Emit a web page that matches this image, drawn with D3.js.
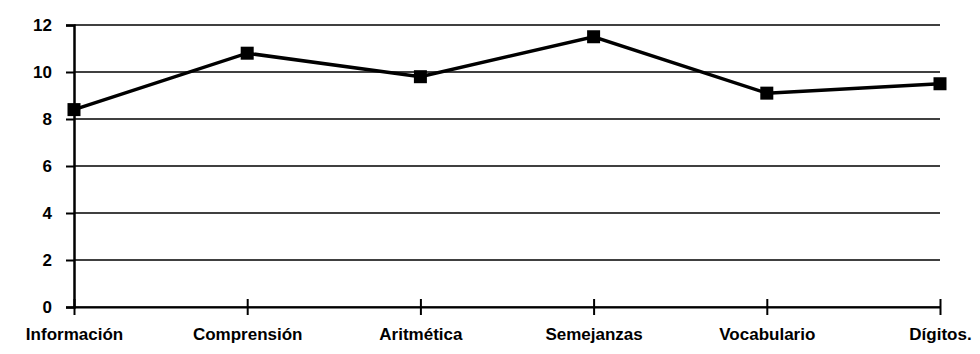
<!DOCTYPE html>
<html>
<head>
<meta charset="utf-8">
<script src="https://cdn.jsdelivr.net/npm/d3@7"></script>
<style>
  body { margin: 0; background: #fff; }
  text { font-family: "Liberation Sans", Arial, sans-serif; font-weight: bold; }
</style>
</head>
<body>
<svg id="chart" width="980" height="354"></svg>
<script>
// subtests and scores
var categories = ["Información", "Comprensión", "Aritmética", "Semejanzas", "Vocabulario", "Dígitos."];
var scores = [8.4, 10.8, 9.8, 11.5, 9.1, 9.5];
var yTicks = [0, 2, 4, 6, 8, 10, 12];

var svg = d3.select("#chart");
// plot edges (note: "top" is taken by window.top, so use other names)
var plotLeft = 74, plotRight = 940, plotTop = 25, plotBottom = 307;

var x = d3.scalePoint().domain(categories).range([plotLeft, plotRight]);
var y = d3.scaleLinear().domain([0, 12]).range([plotBottom, plotTop]);

// horizontal grid
svg.selectAll("line.grid")
  .data(yTicks)
  .join("line")
  .attr("class", "grid")
  .attr("x1", plotLeft).attr("x2", plotRight)
  .attr("y1", d => y(d)).attr("y2", d => y(d))
  .attr("stroke", "#000").attr("stroke-width", 1.6);

// y axis
var yAxis = d3.axisLeft(y).tickValues(yTicks).tickSize(8).tickPadding(14);
var gy = svg.append("g").attr("transform", `translate(${plotLeft},0)`).call(yAxis);
gy.select(".domain").attr("stroke-width", 2.5);
gy.selectAll(".tick line").attr("stroke-width", 2);
gy.selectAll("text").style("font-size", "17px").attr("fill", "#000");

// x axis, ticks cross the line
var xAxis = d3.axisBottom(x).tickSizeInner(8).tickSizeOuter(0).tickPadding(20);
var gx = svg.append("g").attr("transform", `translate(0,${plotBottom})`).call(xAxis);
gx.select(".domain").attr("stroke-width", 2);
gx.selectAll(".tick line").attr("y1", -8).attr("y2", 8).attr("stroke-width", 2);
gx.selectAll("text").style("font-size", "17px").attr("fill", "#000").attr("dy", "0.3em");

// score line
var line = d3.line().x((d, i) => x(categories[i])).y(d => y(d));
svg.append("path")
  .datum(scores)
  .attr("d", line)
  .attr("fill", "none")
  .attr("stroke", "#000")
  .attr("stroke-width", 3.5);

svg.selectAll("rect.mark")
  .data(scores)
  .join("rect")
  .attr("class", "mark")
  .attr("x", (d, i) => x(categories[i]) - 6.5)
  .attr("y", d => y(d) - 6.5)
  .attr("width", 13).attr("height", 13)
  .attr("fill", "#000");
</script>
</body>
</html>
